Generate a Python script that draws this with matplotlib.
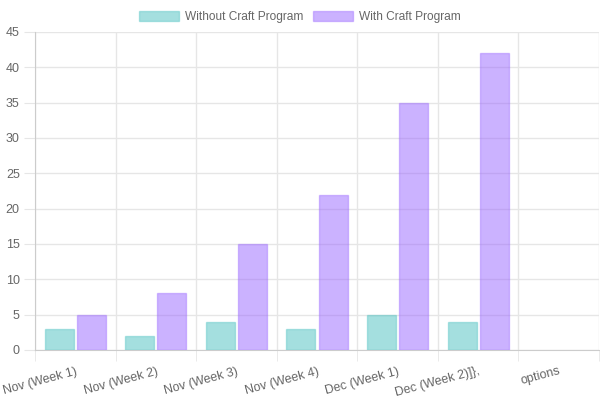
import numpy as np
import matplotlib
matplotlib.use('agg')
import matplotlib.pyplot as plt

plt.rcParams['font.family'] = ['Liberation Sans', 'DejaVu Sans']

# chart data
labels = ['Nov (Week 1)', 'Nov (Week 2)', 'Nov (Week 3)', 'Nov (Week 4)',
          'Dec (Week 1)', 'Dec (Week 2)]},', 'options']
without_craft = [3, 2, 4, 3, 5, 4]
with_craft = [5, 8, 15, 22, 35, 42]

fig = plt.figure(figsize=(6, 4), dpi=100)
ax = fig.add_axes([35 / 600, 50 / 400, 564 / 600, 318 / 400])

bar_w = 0.8 / 2 * 0.9
x1 = np.arange(len(without_craft))
ax.bar(x1 - 0.2, without_craft, width=bar_w, color=(75/255, 192/255, 192/255, 0.5),
       edgecolor=(75/255, 192/255, 192/255, 0.4), linewidth=1, label='Without Craft Program', zorder=3)
ax.bar(x1 + 0.2, with_craft, width=bar_w, color=(153/255, 102/255, 255/255, 0.5),
       edgecolor=(153/255, 102/255, 255/255, 0.4), linewidth=1, label='With Craft Program', zorder=3)

ax.set_xlim(-0.5, len(labels) - 0.5)
ax.set_ylim(0, 45)
ax.set_yticks(range(0, 46, 5))
ax.set_xticks(range(len(labels)))
ax.set_xticklabels(labels, rotation=15, ha='right', rotation_mode='anchor')
ax.set_xticks(np.arange(len(labels) + 1) - 0.5, minor=True)

ax.grid(False)
ax.grid(True, which='minor', axis='x', color='#e6e6e6', linewidth=1, zorder=0)
ax.grid(True, which='major', axis='y', color='#e6e6e6', linewidth=1, zorder=0)
ax.tick_params(axis='x', which='major', length=0, pad=11, labelsize=9, labelcolor='#666666')
ax.tick_params(axis='x', which='minor', length=8, color='#e6e6e6')
ax.tick_params(axis='y', length=8, color='#e6e6e6', labelsize=9, labelcolor='#666666', pad=3)
for s in ['top', 'right']:
    ax.spines[s].set_visible(False)
for s in ['left', 'bottom']:
    ax.spines[s].set_color('#cccccc')

fig.legend(loc='upper center', bbox_to_anchor=(0.5, 1.0), ncol=2, frameon=False,
           fontsize=8.6, labelcolor='#666666', handlelength=3.35, handleheight=1.0,
           columnspacing=0.85, handletextpad=0.5)

fig.savefig('out.png', dpi=100)
plt.close()
